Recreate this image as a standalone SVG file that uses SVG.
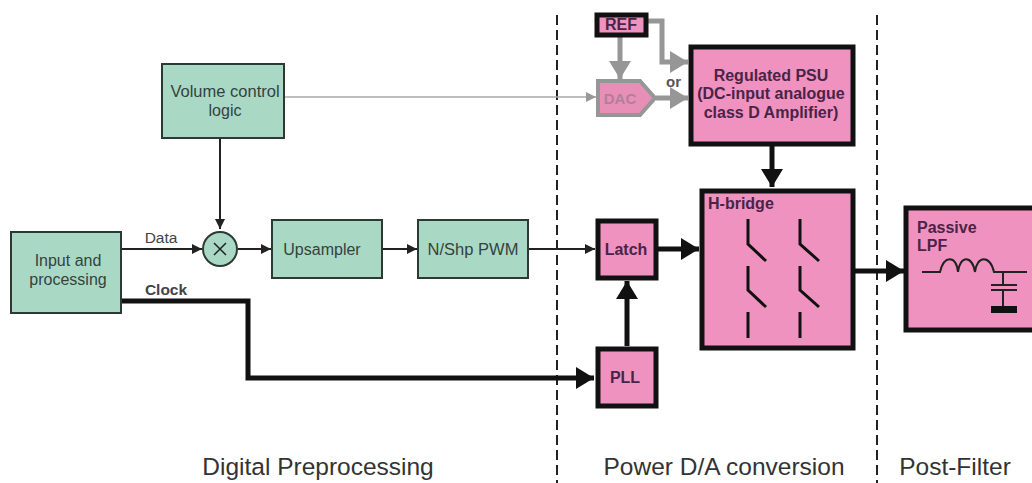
<svg xmlns="http://www.w3.org/2000/svg" width="1032" height="483" viewBox="0 0 1032 483">
<defs>
<marker id="aThin" markerUnits="userSpaceOnUse" markerWidth="12" markerHeight="12" refX="10" refY="5" orient="auto"><path d="M0 0L10 5L0 10z" fill="#222"/></marker>
<marker id="aThick" markerUnits="userSpaceOnUse" markerWidth="20" markerHeight="24" refX="18" refY="11" orient="auto"><path d="M0 0L18 11L0 22z" fill="#111"/></marker>
<marker id="aGrayS" markerUnits="userSpaceOnUse" markerWidth="12" markerHeight="12" refX="10" refY="5" orient="auto"><path d="M0 0L10 5L0 10z" fill="#999"/></marker>
<marker id="aGray" markerUnits="userSpaceOnUse" markerWidth="20" markerHeight="24" refX="18" refY="11" orient="auto"><path d="M0 0L18 11L0 22z" fill="#969696"/></marker>
</defs>
<style>
text{font-family:"Liberation Sans",Arial,sans-serif}
.g{fill:#a9d9c5;stroke:#2b3a35;stroke-width:2}
.p{fill:#f092bf;stroke:#111;stroke-width:5}
.gt{font-size:16px;fill:#34423e;text-anchor:middle}
.pt{font-size:16px;font-weight:bold;fill:#4a2348;text-anchor:middle}
.lt{font-size:16px;font-weight:bold;fill:#4a2348}
.cap{font-size:24.5px;fill:#333;text-anchor:middle}
.thin{fill:none;stroke:#222;stroke-width:2}
.thick{fill:none;stroke:#111;stroke-width:5}
.gray{fill:none;stroke:#969696;stroke-width:5}
.sw{fill:none;stroke:#111;stroke-width:3}
.dash{fill:none;stroke:#222;stroke-width:2;stroke-dasharray:10 5}
</style>
<rect width="1032" height="483" fill="#fff"/>
<g id="connectors">
<path class="dash" d="M557 15V483"/>
<path class="dash" d="M877 15V483"/>
<path d="M284 97H596" fill="none" stroke="#aaa" stroke-width="1.5" marker-end="url(#aGrayS)"/>
<path class="thin" d="M220 138V229" marker-end="url(#aThin)"/>
<path class="thin" d="M121 249H202" marker-end="url(#aThin)"/>
<path class="thin" d="M238 249H271" marker-end="url(#aThin)"/>
<path class="thin" d="M383 249H417" marker-end="url(#aThin)"/>
<path class="thin" d="M529 249H595" marker-end="url(#aThin)"/>
<path class="thick" d="M121 301H248V378H594" marker-end="url(#aThick)"/>
<path class="thick" d="M627 346V281" marker-end="url(#aThick)"/>
<path class="thick" d="M658 249H699" marker-end="url(#aThick)"/>
<path class="thick" d="M772 146V187" marker-end="url(#aThick)"/>
<path class="thick" d="M855 271H904" marker-end="url(#aThick)"/>
<path class="gray" d="M620 36V79" marker-end="url(#aGray)"/>
<path class="gray" d="M646 21H662V62H688" marker-end="url(#aGray)"/>
<path class="gray" d="M656 98H688" marker-end="url(#aGray)"/>
</g>
<g id="volume"><rect class="g" x="162" y="64" width="122" height="74"/><text class="gt" x="225" y="97" style="font-size:16.5px">Volume control</text><text class="gt" x="225" y="116">logic</text></g>
<g id="input"><rect class="g" x="11" y="232" width="110" height="81"/><text class="gt" x="68" y="266">Input and</text><text class="gt" x="68" y="285">processing</text></g>
<g id="mult"><circle class="g" cx="220" cy="249" r="17"/><path d="M214 243L226 255M226 243L214 255" stroke="#222" stroke-width="1.5"/></g>
<g id="upsampler"><rect class="g" x="272" y="220" width="110" height="58"/><text class="gt" x="322" y="255">Upsampler</text></g>
<g id="pwm"><rect class="g" x="418" y="220" width="110" height="58"/><text class="gt" x="473" y="255" style="font-size:16.5px">N/Shp PWM</text></g>
<g id="ref"><path d="M597 15V35H646V15z" fill="#f092bf" stroke="#111" stroke-width="5"/><text class="pt" x="621" y="30">REF</text></g>
<g id="dac"><path d="M598 81H640L655 98L640 115H598z" fill="#e88fb8" stroke="#969696" stroke-width="4"/><text x="620" y="104" font-size="15" font-weight="bold" fill="#b07f9c" text-anchor="middle">DAC</text></g>
<text x="666" y="87" font-size="15" font-weight="bold" fill="#555">or</text>
<g id="psu"><rect class="p" x="691" y="47" width="162" height="97"/><text class="pt" x="771" y="81">Regulated PSU</text><text class="pt" x="771" y="99">(DC-input analogue</text><text class="pt" x="771" y="118">class D Amplifier)</text></g>
<g id="latch"><rect class="p" x="598" y="221" width="58" height="57"/><text class="pt" x="626" y="255">Latch</text></g>
<g id="pll"><rect class="p" x="598" y="349" width="58" height="57"/><text class="pt" x="625" y="383">PLL</text></g>
<g id="hbridge"><rect class="p" x="702" y="191" width="151" height="157"/><text class="lt" x="708" y="209">H-bridge</text>
<path class="sw" d="M748 219V244L766 261M800 219V244L819 261M748 266V290L766 307M800 266V290L819 307M748 312V338M800 312V338"/></g>
<g id="lpf"><path d="M1032 208H906V330H1032" fill="#f092bf" stroke="#111" stroke-width="5"/><text class="lt" x="917" y="233">Passive</text><text class="lt" x="917" y="251">LPF</text>
<path d="M922 272H940C944 255 956 255 958 272C960 255 972 255 975 272C977 255 990 255 994 272H1027M1003 272V285M991 285H1017M991 290H1017M1003 290V307" fill="none" stroke="#222" stroke-width="2"/><rect x="991" y="306" width="26" height="7" fill="#111"/></g>
<text class="cap" x="318" y="475">Digital Preprocessing</text>
<text class="cap" x="724" y="475">Power D/A conversion</text>
<text class="cap" x="955" y="475">Post-Filter</text>
<text x="161" y="243" font-size="15.5" fill="#444" text-anchor="middle">Data</text>
<text x="166" y="295" font-size="15.5" font-weight="bold" fill="#444" text-anchor="middle">Clock</text>
</svg>
